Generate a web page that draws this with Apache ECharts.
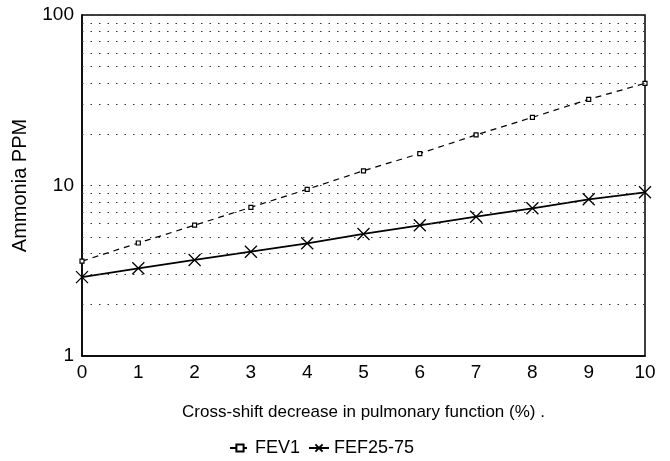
<!DOCTYPE html>
<html>
<head>
<meta charset="utf-8">
<script src="https://cdn.jsdelivr.net/npm/echarts@6/dist/echarts.min.js"></script>
<style>
  html, body { margin: 0; padding: 0; background: #fff; }
  #chart { width: 670px; height: 461px; }
</style>
</head>
<body>
<div id="chart"></div>
<script>
// decrease in pulmonary function (%)
const xValues = [0, 1, 2, 3, 4, 5, 6, 7, 8, 9, 10]
const fev1 = [3.6, 4.6, 5.85, 7.45, 9.5, 12.2, 15.4, 19.8, 25.1, 32.0, 39.7]
const fef2575 = [2.9, 3.27, 3.66, 4.09, 4.58, 5.2, 5.84, 6.56, 7.35, 8.3, 9.12]
// dotted grid between the decades
const minorGrid = [2, 3, 4, 5, 6, 7, 8, 9, 20, 30, 40, 50, 60, 70, 80, 90]

const chart = echarts.init(document.getElementById('chart'))
const font = 'Arial, "Liberation Sans", sans-serif'
const dotted = { type: [1.5, 7], color: '#333', width: 1 }

const option = {
  animation: false,
  textStyle: { fontFamily: font },
  grid: {
    left: 82,
    right: 25,
    top: 15,
    bottom: 105,
    show: true,
    borderColor: '#000',
    borderWidth: 1.5
  },
  legend: {
    bottom: -1,
    left: 224,
    itemGap: 8,
    itemWidth: 20,
    itemHeight: 9,
    textStyle: { fontSize: 18, color: '#000', fontFamily: font },
    data: ['FEV1', 'FEF25-75']
  },
  xAxis: {
    type: 'value',
    min: 0,
    max: 10,
    interval: 1,
    name: 'Cross-shift decrease in pulmonary function (%) .',
    nameLocation: 'middle',
    nameGap: 48,
    nameTextStyle: { fontSize: 17, color: '#000' },
    axisLine: { lineStyle: { color: '#000', width: 1.5 } },
    axisTick: { show: false },
    splitLine: { show: false },
    axisLabel: { fontSize: 19, color: '#000', margin: 7 }
  },
  yAxis: {
    type: 'log',
    logBase: 10,
    min: 1,
    max: 100,
    name: 'Ammonia PPM',
    nameLocation: 'middle',
    nameGap: 52,
    nameTextStyle: { fontSize: 20, color: '#000' },
    axisLine: { show: true, lineStyle: { color: '#000', width: 1.5 } },
    axisTick: { show: false },
    splitLine: { show: true, lineStyle: dotted },
    axisLabel: { fontSize: 19, color: '#000', margin: 8 }
  },
  series: [
    {
      name: 'FEV1',
      type: 'line',
      data: xValues.map((x, i) => [x, fev1[i]]),
      symbol: 'rect',
      symbolSize: 4,
      showSymbol: true,
      lineStyle: { color: '#000', width: 1.2, type: [6, 5] },
      itemStyle: { color: '#fff', borderColor: '#000', borderWidth: 1.2 },
      markLine: {
        silent: true,
        symbol: 'none',
        label: { show: false },
        lineStyle: dotted,
        data: minorGrid.map(v => ({ yAxis: v }))
      },
      z: 3
    },
    {
      name: 'FEF25-75',
      type: 'line',
      data: xValues.map((x, i) => [x, fef2575[i]]),
      symbol: 'path://M0,0L10,10M10,0L0,10',
      symbolSize: 12,
      lineStyle: { color: '#000', width: 1.8 },
      itemStyle: { color: 'none', borderColor: '#000', borderWidth: 1.3 },
      z: 4
    }
  ]
}

chart.setOption(option)
</script>
</body>
</html>
